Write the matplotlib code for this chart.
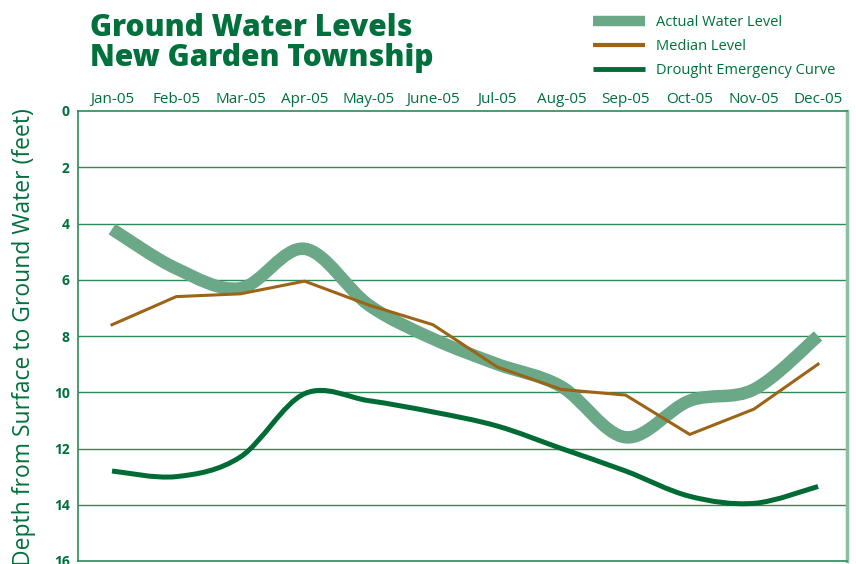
import numpy as np
import matplotlib
matplotlib.use("Agg")
import matplotlib.pyplot as plt
from matplotlib.path import Path
from matplotlib.patches import PathPatch
from matplotlib.lines import Line2D

# * - - - Data
months = ["Jan-05", "Feb-05", "Mar-05", "Apr-05", "May-05", "June-05",
          "Jul-05", "Aug-05", "Sep-05", "Oct-05", "Nov-05", "Dec-05"]
actual_level = [4.2, 5.6, 6.3, 4.9, 6.9, 8.1, 9.0, 9.8, 11.6, 10.3, 9.9, 8.0]
median_level = [7.6, 6.6, 6.5, 6.05, 6.9, 7.6, 9.1, 9.9, 10.1, 11.5, 10.6, 9.0]
drought_curve = [12.8, 13.0, 12.3, 10.05, 10.3, 10.7, 11.2, 12.0, 12.8, 13.7, 13.95, 13.35]
y_ticks = [0, 2, 4, 6, 8, 10, 12, 14, 16]

# * - - - Colours
c_text = "#00703c"
c_actual = "#6aa888"
c_median = "#9c6416"
c_drought = "#006b35"
c_grid = "#2f8a58"

plt.rcParams["font.family"] = ["Open Sans", "DejaVu Sans"]


def smooth_path(xs, ys):
    # Catmull-Rom through the points, drawn as cubic bezier segments
    pts = np.column_stack([xs, ys]).astype(float)
    n = len(pts)
    verts = [pts[0]]
    codes = [Path.MOVETO]
    for i in range(n - 1):
        p0 = pts[i - 1] if i > 0 else pts[i]
        p1 = pts[i]
        p2 = pts[i + 1]
        p3 = pts[i + 2] if i + 2 < n else pts[i + 1]
        verts += [p1 + (p2 - p0) / 6.0, p2 - (p3 - p1) / 6.0, p2]
        codes += [Path.CURVE4] * 3
    return Path(verts, codes)


fig = plt.figure(figsize=(8.56, 5.64), dpi=100)
ax = fig.add_axes([78 / 856, 3 / 564, (847 - 78) / 856, (561 - 111) / 564])

x = np.arange(len(months))

# * - - - Grid lines
for yv in y_ticks[1:-1]:
    ax.axhline(yv, color=c_grid, lw=1.0, zorder=1)

# * - - - Series
ax.add_patch(PathPatch(smooth_path(x, actual_level), fill=False,
                       edgecolor=c_actual, lw=9, capstyle="butt", zorder=3))
ax.plot(x, median_level, color=c_median, lw=2.2, zorder=4)
ax.add_patch(PathPatch(smooth_path(x, drought_curve), fill=False,
                       edgecolor=c_drought, lw=3.6, capstyle="butt", zorder=4))

ax.set_xlim(-0.53, 11.45)
ax.set_ylim(16, 0)

ax.set_xticks(x)
ax.set_xticklabels(months, color=c_text, fontsize=11)
ax.xaxis.tick_top()
ax.set_yticks(y_ticks)
ax.set_yticklabels([str(v) for v in y_ticks], color=c_text, fontsize=10,
                   fontweight="bold")
ax.tick_params(axis="both", length=0)
ax.tick_params(axis="x", pad=3)
ax.tick_params(axis="y", pad=6)

for side in ["left", "top", "bottom"]:
    ax.spines[side].set_color(c_grid)
    ax.spines[side].set_linewidth(1.2)
ax.spines["right"].set_color("#8cbf9f")
ax.spines["right"].set_linewidth(2.5)

# * - - - Y axis title (cut at the bottom like the original)
fig.text(24 / 856, 1 - 108 / 564, "Depth from Surface to Ground Water (feet)",
         color=c_text, fontsize=16.5, rotation=90, ha="center", va="top")

# * - - - Title
fig.text(90 / 856, 1 - 13 / 564, "Ground Water Levels\nNew Garden Township",
         color=c_text, fontsize=21.5, fontweight="heavy", va="top", ha="left",
         linespacing=1.0)

# * - - - Legend
handles = [Line2D([], [], color=c_actual, lw=7.5, solid_capstyle="butt"),
           Line2D([], [], color=c_median, lw=3, solid_capstyle="butt"),
           Line2D([], [], color=c_drought, lw=3.5, solid_capstyle="butt")]
labels = ["Actual Water Level", "Median Level", "Drought Emergency Curve"]
leg = fig.legend(handles, labels, loc="upper left",
                 bbox_to_anchor=(586 / 856, 1 - 8 / 564), frameon=False,
                 fontsize=10.5, handlelength=3.56, handletextpad=0.75,
                 labelspacing=0.62, borderpad=0)
for t in leg.get_texts():
    t.set_color(c_text)

fig.savefig("out.png", dpi=100)
